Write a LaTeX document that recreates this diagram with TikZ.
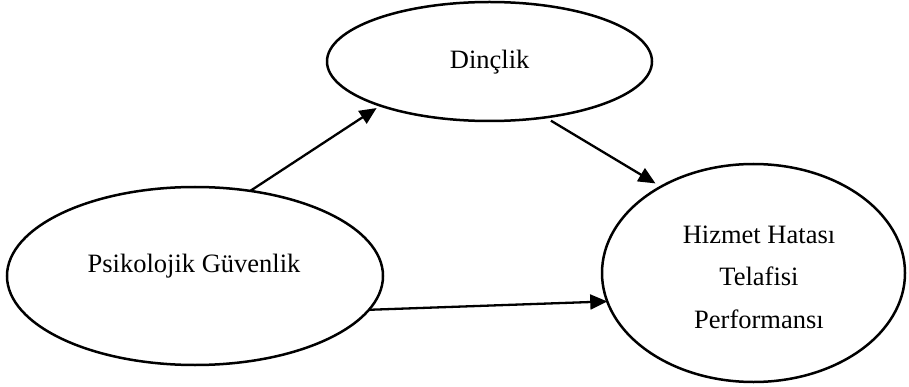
\documentclass[tikz,border=0pt]{standalone}
\usepackage{fontspec}
\setmainfont{Liberation Serif}
\usetikzlibrary{arrows.meta,shapes.geometric}
\begin{document}
\begin{tikzpicture}[x=1pt,y=-1pt,
  ell/.style={draw=black,line width=2.5pt,ellipse,inner sep=0pt,outer sep=0pt},
  txt/.style={inner sep=0pt,font=\fontsize{26.5}{42.5}\selectfont,align=center},
  arr/.style={line width=2.3pt,-{Triangle[length=17pt,width=15pt]}}]
\useasboundingbox (0,0) rectangle (909,387);
\fill[white] (0,0) rectangle (909,387);
\node[ell,minimum width=325pt,minimum height=119pt] (dn) at (489.5,61.5) {};
\node[ell,minimum width=376pt,minimum height=178pt] (pg) at (195,276) {};
\node[ell,minimum width=303pt,minimum height=218pt] (hh) at (753.5,273) {};
\node[txt,anchor=base] (dnt) at (489.7,68.3) {Dinçlik};
\node[txt,anchor=base] (pgt) at (194,272.7) {Psikolojik Güvenlik};
\node[txt] (hht) at (759,277) {Hizmet Hatası\\Telafisi\\Performansı};
\draw[arr,shorten >=4.5pt] (pg.57) -- (dn.202.6);
\draw[arr,shorten <=6.5pt,shorten >=6.4pt] (dn.315) -- (hh.137.6);
\draw[arr] (pg.-11.2) -- (hh.191.3);
\end{tikzpicture}
\end{document}
